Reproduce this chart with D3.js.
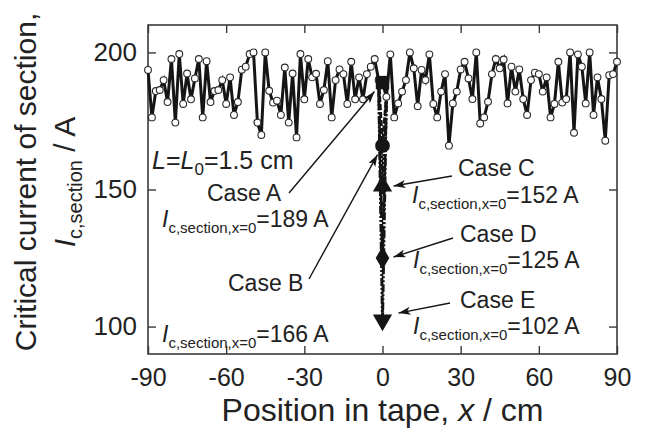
<!DOCTYPE html>
<html>
<head>
<meta charset="utf-8">
<script src="https://cdn.jsdelivr.net/npm/d3@7"></script>
<style>
  html, body { margin: 0; padding: 0; background: #fff; }
  svg { display: block; font-family: "Liberation Sans", Arial, sans-serif; }
</style>
</head>
<body>
<svg id="chart" width="650" height="432"></svg>
<script>
// Section critical current along the tape (section length L = 1.5 cm)
const sectionLength = 1.5;
const xStart = -90;
const icSection = [
  193.6, 176.3, 185.9, 186.3, 189.9, 181.9, 197.6, 174.4, 199.4, 181.2,
  192.3, 182.9, 190.5, 197.6, 176.3, 196.8, 181.9, 185.9, 186.3, 189.9,
  181.2, 190.9, 177.2, 181.9, 193.7, 194.8, 199.4, 200.0, 174.4, 169.9,
  200.0, 186.0, 181.7, 182.4, 177.2, 194.5, 174.4, 192.3, 169.0, 199.4,
  182.9, 197.6, 190.9, 192.2, 181.2, 186.3, 196.8, 176.3, 189.9, 193.8,
  192.1, 181.2, 196.6, 182.9, 190.9, 182.9, 192.1, 194.8, 197.6, 189.9,
  189.0,
  183.8, 199.3, 176.3, 181.4, 185.7, 189.9, 200.0, 194.2, 180.4, 193.6,
  189.9, 199.3, 181.2, 176.3, 185.7, 192.1, 166.0, 181.4, 185.7, 193.8,
  196.6, 190.5, 183.0, 200.0, 174.1, 176.3, 182.0, 192.1, 197.6, 194.2,
  197.4, 181.4, 194.8, 185.7, 193.8, 183.0, 177.2, 189.9, 192.6, 192.1,
  185.7, 190.9, 176.3, 181.2, 196.6, 181.7, 183.0, 200.0, 170.7, 199.3,
  194.8, 181.4, 200.0, 177.2, 190.9, 183.0, 167.8, 191.7, 192.1, 196.6
];
const positions = icSection.map((_, i) => xStart + i * sectionLength);

// Cases: critical current of the centre section (x = 0)
const caseNames = ["Case A", "Case B", "Case C", "Case D", "Case E"];
const caseValues = [189, 166, 152, 125, 102];
const caseSymbols = [d3.symbolSquare, d3.symbolCircle, d3.symbolTriangle, d3.symbolDiamond, "triangleDown"];
const caseDashes = [null, "6,2", "2,2", "6,2,2,2", "8,2,2,2,2,2"];

const xTicks = [-90, -60, -30, 0, 30, 60, 90];
const yTicks = [100, 150, 200];

const W = 650, H = 432;
const margin = { left: 148, top: 25, right: 33, bottom: 78 };
const svg = d3.select("#chart");

const x = d3.scaleLinear().domain([-90, 90]).range([margin.left, W - margin.right]);
const y = d3.scaleLinear().domain([90, 210]).range([H - margin.bottom, margin.top]);

const ink = "#151515";
const frameColor = "#3a3a3a";
const plain = d => String(d);

// Axes with inward ticks on all four sides
const gB = svg.append("g").attr("transform", `translate(0,${y.range()[0]})`)
  .call(d3.axisBottom(x).tickValues(xTicks).tickSize(-8).tickPadding(14).tickFormat(plain));
const gT = svg.append("g").attr("transform", `translate(0,${y.range()[1]})`)
  .call(d3.axisTop(x).tickValues(xTicks).tickSize(-8).tickFormat(""));
const gL = svg.append("g").attr("transform", `translate(${x.range()[0]},0)`)
  .call(d3.axisLeft(y).tickValues(yTicks).tickSize(-8).tickPadding(11).tickFormat(plain));
const gR = svg.append("g").attr("transform", `translate(${x.range()[1]},0)`)
  .call(d3.axisRight(y).tickValues(yTicks).tickSize(-8).tickFormat(""));
[gB, gT, gL, gR].forEach(g => {
  g.select(".domain").remove();
  g.selectAll(".tick line").attr("stroke", frameColor).attr("stroke-width", 1.4);
  g.selectAll(".tick text").attr("fill", "#222").attr("font-size", 25)
    .attr("font-family", "'Liberation Sans', Arial, sans-serif");
});
gB.selectAll(".tick text").attr("dy", "0.71em");
gL.selectAll(".tick text").attr("font-size", 26);

svg.append("rect")
  .attr("x", x.range()[0]).attr("y", y.range()[1])
  .attr("width", x.range()[1] - x.range()[0])
  .attr("height", y.range()[0] - y.range()[1])
  .attr("fill", "none").attr("stroke", frameColor).attr("stroke-width", 1.6);

// Case series: neighbouring sections joined to the centre section value
const iMid = positions.indexOf(0);
caseValues.forEach((v, k) => {
  if (k === 0) return;
  const pts = [
    [positions[iMid - 1], icSection[iMid - 1]],
    [0, v],
    [positions[iMid + 1], icSection[iMid + 1]]
  ];
  svg.append("path")
    .attr("d", d3.line().x(d => x(d[0])).y(d => y(d[1]))(pts))
    .attr("fill", "none").attr("stroke", ink).attr("stroke-width", 3)
    .attr("stroke-dasharray", caseDashes[k]);
});

// Main series
svg.append("path")
  .datum(icSection)
  .attr("d", d3.line().x((d, i) => x(positions[i])).y(d => y(d)))
  .attr("fill", "none").attr("stroke", ink).attr("stroke-width", 3)
  .attr("stroke-linejoin", "miter");

svg.append("g").selectAll("circle")
  .data(icSection)
  .join("circle")
  .attr("cx", (d, i) => x(positions[i]))
  .attr("cy", d => y(d))
  .attr("r", 3.4)
  .attr("fill", "#fff").attr("stroke", "#2a2a2a").attr("stroke-width", 1.1);

// Case markers at x = 0
caseValues.forEach((v, k) => {
  const s = caseSymbols[k];
  if (s === "triangleDown") {
    svg.append("path").attr("d", d3.symbol(d3.symbolTriangle, 160)())
      .attr("transform", `translate(${x(0)},${y(v) - 1}) rotate(180)`)
      .attr("fill", ink);
  } else {
    const size = s === d3.symbolSquare ? 180 : s === d3.symbolCircle ? 170 : 160;
    svg.append("path").attr("d", d3.symbol(s, size)())
      .attr("transform", `translate(${x(0)},${y(v) + (s === d3.symbolTriangle ? 2 : 0)})`)
      .attr("fill", ink);
  }
});

// Arrow heads
svg.append("defs").append("marker")
  .attr("id", "arrow").attr("viewBox", "0 0 12 8")
  .attr("refX", 12).attr("refY", 4)
  .attr("markerWidth", 12).attr("markerHeight", 8)
  .attr("markerUnits", "userSpaceOnUse")
  .attr("orient", "auto")
  .append("path").attr("d", "M0,0 L12,4 L0,8 L3,4 Z").attr("fill", ink);

const fs = 23, fsSub = 15;

function icLabel(xp, yp, value) {
  const t = svg.append("text").attr("x", xp).attr("y", yp)
    .attr("font-size", fs).attr("fill", "#222");
  t.append("tspan").attr("font-style", "italic").text("I");
  t.append("tspan").attr("font-size", fsSub).attr("dy", 6).text("c,section,x=0");
  t.append("tspan").attr("dy", -6).text(`=${value} A`);
}
function caseLabel(xp, yp, name) {
  svg.append("text").attr("x", xp).attr("y", yp)
    .attr("font-size", fs).attr("fill", "#222").text(name);
}
function arrow(x1, y1, x2, y2) {
  svg.append("line").attr("x1", x1).attr("y1", y1).attr("x2", x2).attr("y2", y2)
    .attr("stroke", ink).attr("stroke-width", 1.4).attr("marker-end", "url(#arrow)");
}

// Section length note
const lt = svg.append("text").attr("x", 152).attr("y", 169)
  .attr("font-size", 25).attr("fill", "#222");
lt.append("tspan").attr("font-style", "italic").text("L");
lt.append("tspan").text("=");
lt.append("tspan").attr("font-style", "italic").text("L");
lt.append("tspan").attr("font-size", 17).attr("dy", 6).text("0");
lt.append("tspan").attr("dy", -6).text("=1.5 cm");

// Case annotations
caseLabel(207, 201, caseNames[0]);
icLabel(162, 227, caseValues[0]);
arrow(289, 193, x(0) - 8, y(caseValues[0]) + 9);

caseLabel(228, 291, caseNames[1]);
icLabel(162, 342, caseValues[1]);
arrow(309, 279, x(0) - 5, y(caseValues[1]) + 9);

caseLabel(458, 176, caseNames[2]);
icLabel(412, 203, caseValues[2]);
arrow(452, 176, x(0) + 11, y(caseValues[2]) + 2);

caseLabel(460, 242, caseNames[3]);
icLabel(413, 268, caseValues[3]);
arrow(453, 238, x(0) + 11, y(caseValues[3]) - 1);

caseLabel(460, 308, caseNames[4]);
icLabel(413, 334, caseValues[4]);
arrow(450, 303, x(0) + 16, y(caseValues[4]) - 8);

// Axis titles
svg.append("text")
  .attr("x", (x.range()[0] + x.range()[1]) / 2).attr("y", 421)
  .attr("text-anchor", "middle").attr("font-size", 32).attr("fill", "#222")
  .call(t => {
    t.append("tspan").text("Position in tape, ");
    t.append("tspan").attr("font-style", "italic").text("x");
    t.append("tspan").text(" / cm");
  });

const yt = svg.append("g").attr("transform", `translate(0,${182}) rotate(-90)`);
yt.append("text").attr("x", 0).attr("y", 36)
  .attr("text-anchor", "middle").attr("font-size", 30).attr("fill", "#222")
  .text("Critical current of section,");
yt.append("text").attr("x", 0).attr("y", 75)
  .attr("text-anchor", "middle").attr("font-size", 30).attr("fill", "#222")
  .call(t => {
    t.append("tspan").attr("font-style", "italic").text("I");
    t.append("tspan").attr("font-size", 20).attr("dy", 7).text("c,section");
    t.append("tspan").attr("dy", -7).text(" / A");
  });
</script>
</body>
</html>
